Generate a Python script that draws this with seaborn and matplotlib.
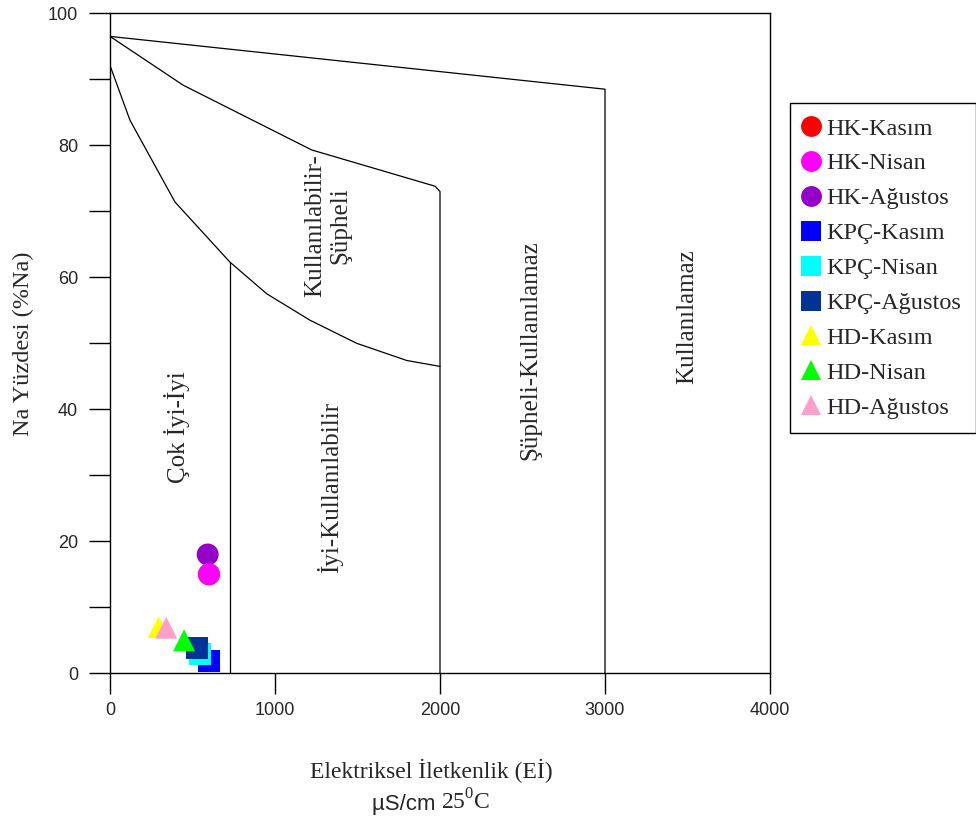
import matplotlib
matplotlib.use("Agg")
import matplotlib.pyplot as plt
from matplotlib.offsetbox import TextArea, HPacker, AnnotationBbox
import seaborn as sns
import pandas as pd

# Sample groups (legend order)
labels = ["HK-Kasım", "HK-Nisan", "HK-Ağustos",
          "KPÇ-Kasım", "KPÇ-Nisan", "KPÇ-Ağustos",
          "HD-Kasım", "HD-Nisan", "HD-Ağustos"]
colors = ["#ff0000", "#ff00ff", "#9400c8",
          "#0000ff", "#00ffff", "#003399",
          "#ffff00", "#00ff00", "#ff9fcc"]
shapes = ["o", "o", "o", "s", "s", "s", "^", "^", "^"]

# Measurements in drawing order: EC (µS/cm) and Na %
point_labels = ["HK-Kasım", "HK-Ağustos", "HK-Nisan",
                "KPÇ-Kasım", "KPÇ-Nisan", "KPÇ-Ağustos",
                "HD-Kasım", "HD-Nisan", "HD-Ağustos"]
ec_values = [600, 592, 600, 599, 547, 528, 295, 449, 341]
na_values = [15.0, 18.0, 15.0, 1.9, 2.9, 3.9, 7.0, 5.0, 6.9]

# Wilcox class boundaries
top_x = [0, 3000, 3000]
top_y = [96.5, 88.5, 0]
mid_x = [0, 444, 1222, 1970, 2000, 2000]
mid_y = [96.5, 89.1, 79.3, 73.8, 73.0, 0]
low_x = [0, 121, 394, 727, 950, 1212, 1495, 1798, 2000]
low_y = [92.1, 83.8, 71.4, 62.3, 57.5, 53.5, 50.0, 47.4, 46.5]
split_x = [727, 727]
split_y = [62.3, 0]

zone_names = ["Çok İyi-İyi", "İyi-Kullanılabilir", "Kullanılabilir-\nŞüpheli",
              "Şüpheli-Kullanılamaz", "Kullanılamaz"]
zone_x = [406, 1333, 1321, 2545, 3497]
zone_y = [37.3, 28.2, 67.9, 48.9, 54.1]

sns.set_style("white")
plt.rcParams["mathtext.fontset"] = "custom"
plt.rcParams["mathtext.rm"] = "Liberation Serif"

SERIF = "Liberation Serif"
SANS = "Liberation Sans"

fig = plt.figure(figsize=(9.76, 8.19), dpi=100)
ax = fig.add_axes([110 / 976, 1 - 673.3 / 819, 660 / 976, 660 / 819])

for xs, ys in [(top_x, top_y), (mid_x, mid_y), (low_x, low_y), (split_x, split_y)]:
    ax.plot(xs, ys, color="black", lw=0.9, zorder=1)

df = pd.DataFrame({"EC": ec_values, "Na": na_values, "Grup": point_labels})
sns.scatterplot(data=df, x="EC", y="Na", hue="Grup", style="Grup",
                hue_order=labels, style_order=labels,
                palette=dict(zip(labels, colors)),
                markers=dict(zip(labels, shapes)),
                s=250, linewidth=0, ax=ax, zorder=3, legend="full")

for name, zx, zy in zip(zone_names, zone_x, zone_y):
    ax.text(zx, zy, name, rotation=90, ha="center", va="center",
            family=SERIF, fontsize=18, linespacing=1.15)

ax.set_xlim(0, 4000)
ax.set_ylim(0, 100)
ax.set_xticks([0, 1000, 2000, 3000, 4000])
ax.set_yticks([0, 20, 40, 60, 80, 100])
ax.set_yticks([10, 30, 50, 70, 90], minor=True)
for lbl in ax.get_xticklabels() + ax.get_yticklabels():
    lbl.set_family(SANS)
    lbl.set_fontsize(13)
ax.tick_params(axis="both", which="both", direction="out", length=15,
               width=1, color="black", left=True, bottom=True)
ax.tick_params(axis="x", pad=6)
ax.tick_params(axis="y", pad=8)
for sp in ax.spines.values():
    sp.set_color("black")
    sp.set_linewidth(1)

ax.set_xlabel("")
ax.set_ylabel("Na Yüzdesi (%Na)", family=SERIF, fontsize=17.5, labelpad=10)

fig.text(431 / 976, 1 - 771 / 819, "Elektriksel İletkenlik (Eİ)",
         family=SERIF, fontsize=17, ha="center", va="center")
unit_box = HPacker(children=[
    TextArea("µS/cm ", textprops=dict(family=SANS, fontsize=16)),
    TextArea(r"25$^{\mathrm{0}}$C", textprops=dict(family=SERIF, fontsize=17)),
], align="baseline", pad=0, sep=0)
fig.add_artist(AnnotationBbox(unit_box, (431 / 976, 1 - 802 / 819),
                              xycoords="figure fraction", frameon=False,
                              box_alignment=(0.5, 0.5)))

sns.move_legend(ax, loc="upper left",
                bbox_to_anchor=(790 / 976, 1 - 103 / 819),
                bbox_transform=fig.transFigure, borderaxespad=0,
                title=None, frameon=True, fancybox=False,
                edgecolor="black", framealpha=1,
                prop={"family": SERIF, "size": 17.5},
                labelspacing=0.53, handletextpad=0.35, handlelength=0.55,
                borderpad=0.6, markerscale=0.95)
leg = ax.get_legend()
leg.get_frame().set_linewidth(1)

fig.savefig("out.png", dpi=100)
